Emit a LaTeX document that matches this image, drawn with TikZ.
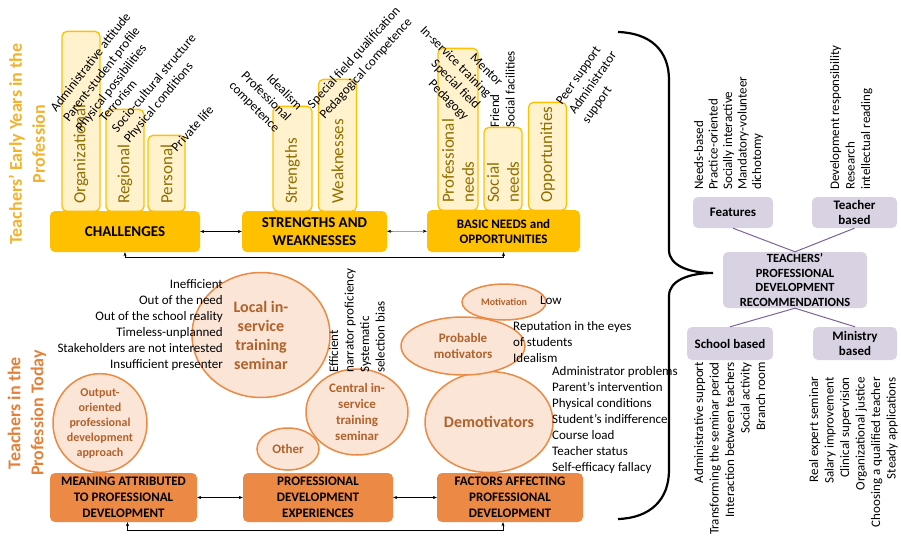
\documentclass[tikz,border=0pt]{standalone}
\usepackage{fontspec}
\setmainfont{Carlito}
\usetikzlibrary{shapes.geometric,arrows.meta}

\definecolor{gold}{HTML}{FFC000}
\definecolor{goldlight}{HTML}{FFF2CC}
\definecolor{goldtext}{HTML}{8F6E00}
\definecolor{goldtitle}{HTML}{F2B22E}
\definecolor{orng}{HTML}{EC8A45}
\definecolor{peach}{HTML}{FBE5D6}
\definecolor{brn}{HTML}{B0622C}
\definecolor{orngtitle}{HTML}{E3813B}
\definecolor{lav}{HTML}{D8D2E2}
\definecolor{purp}{HTML}{7A629A}

\tikzset{
  topbox/.style={fill=gold, rounded corners=5pt, align=center, inner sep=1pt, font=\fontsize{15}{18}\selectfont\bfseries},
  bar/.style={draw=gold, fill=goldlight, line width=1.3pt, rounded corners=5pt, minimum width=38pt, anchor=south},
  barlbl/.style={rotate=90, anchor=west, align=left, text=goldtext, inner sep=0pt, font=\fontsize{17}{20}\selectfont},
  lowbox/.style={fill=orng, rounded corners=5pt, align=center, inner sep=1pt, minimum width=147pt, minimum height=49pt, font=\fontsize{13}{16}\selectfont\bfseries},
  bub/.style={ellipse, draw=orng, fill=peach, line width=1.5pt, inner sep=0pt, align=center, text=brn, font=\fontsize{13}{16}\selectfont\bfseries},
  recbox/.style={fill=lav, rounded corners=5pt, align=center, inner sep=1pt, font=\fontsize{13}{16}\selectfont\bfseries},
  note/.style={inner sep=0pt, font=\fontsize{13}{16}\selectfont},
  vnote/.style={note, rotate=90, font=\fontsize{13}{15.5}\selectfont},
  dbl/.style={{Stealth[length=4pt,width=3pt]}-{Stealth[length=4pt,width=3pt]}, thin},
  pline/.style={draw=purp, line width=1pt},
  sidetitle/.style={rotate=90, align=center, font=\fontsize{18}{23}\selectfont\bfseries}
}

\begin{document}
\begin{tikzpicture}[x=1pt,y=-1pt]
\useasboundingbox (0,0) rectangle (901,536);

% side titles
\node[sidetitle, text=goldtitle] (tearly) at (27,144) {Teachers' Early Years in the\\Profession};
\node[sidetitle, text=orngtitle] (ttoday) at (27,413) {Teachers in the\\Profession Today};

% early years: bars
\node[bar, minimum height=180pt] (borg) at (81,212) {};
\node[bar, minimum height=102pt] (breg) at (125,212) {};
\node[bar, minimum height=76pt, minimum width=37pt] (bper) at (166.5,212) {};
\node[bar, minimum height=105pt, minimum width=39pt] (bstr) at (292.5,212) {};
\node[bar, minimum height=132pt] (bweak) at (337.5,212) {};
\node[bar, minimum height=162pt, minimum width=40pt] (bprof) at (458,211) {};
\node[bar, minimum height=83pt] (bsoc) at (503,211) {};
\node[bar, minimum height=108pt] (bopp) at (547.5,211) {};

\node[barlbl] at ([yshift=8pt]borg.south) {Organizational};
\node[barlbl] at ([yshift=8pt]breg.south) {Regional};
\node[barlbl] at ([yshift=8pt]bper.south) {Personal};
\node[barlbl] at ([yshift=8pt]bstr.south) {Strengths};
\node[barlbl] at ([yshift=8pt]bweak.south) {Weaknesses};
\node[barlbl] at ([yshift=8pt]bprof.south) {Professional\\needs};
\node[barlbl] at ([yshift=8pt]bsoc.south) {Social\\needs};
\node[barlbl] at ([yshift=8pt]bopp.south) {Opportunities};

% early years: main boxes
\node[topbox, minimum width=150pt, minimum height=41pt] (chal) at (125,231.5) {CHALLENGES};
\node[topbox, minimum width=145pt, minimum height=41pt] (sw) at (314.5,231.5) {STRENGTHS AND\\WEAKNESSES};
\node[topbox, minimum width=153pt, minimum height=42pt, font=\fontsize{13}{15}\selectfont\bfseries] (bn) at (503.5,231) {BASIC NEEDS and\\OPPORTUNITIES};

\draw[dbl] (chal) -- (sw);
\draw[dbl] (sw) -- (bn);
\draw[dbl] (chal.south) -- ++(0,5) -| (bn.south);

% early years: notes
\node[note, rotate=52, align=left, anchor=north west] (norg) at (49,107) {Administrative attitude\\Parent-student profile\\Physical possibilities};
\node[note, rotate=50, align=left, anchor=north west] (nreg) at (98,117) {Terrorism\\Socio-cultural structure\\Physical conditions};
\node[note, rotate=48, anchor=north west] (nper) at (170,146) {Private life};
\node[note, rotate=-45, align=right, anchor=north east] (nstr) at (304,104) {Idealism\\Professional\\competence};
\node[note, rotate=48, align=left, anchor=north west] (nweak) at (306,103) {Special field qualification\\Pedagogical competence};
\node[note, rotate=-45, align=right, anchor=north east] (nprof) at (504,81) {Mentor\\In-service training\\Special field\\Pedagogy};
\node[vnote, align=left, anchor=north west] (nsoc) at (490,128) {Friend\\Social facilities};
\node[note, rotate=55, align=left, anchor=north west] (nopp) at (555,101) {Peer support\\Administrator\\support};

% today: bubbles
\node[bub, minimum width=94pt, minimum height=96pt, font=\fontsize{12}{15}\selectfont\bfseries] (outp) at (100,423) {Output-\\oriented\\professional\\development\\approach};
\node[bub, minimum width=138pt, minimum height=125pt, font=\fontsize{16}{19}\selectfont\bfseries] (loc) at (261,335) {Local in-\\service\\training\\seminar};
\node[bub, minimum width=102pt, minimum height=86pt] (cen) at (357,412) {Central in-\\service\\training\\seminar};
\node[bub, minimum width=62pt, minimum height=42pt] (oth) at (288,449) {Other};
\node[bub, minimum width=128pt, minimum height=101pt, font=\fontsize{16}{19}\selectfont\bfseries] (demo) at (489,422) {Demotivators};
\node[bub, minimum width=124pt, minimum height=58pt] (prob) at (463,346) {Probable\\motivators};
\node[bub, minimum width=84pt, minimum height=36pt, font=\fontsize{10}{12}\selectfont\bfseries] (mot) at (504,302) {Motivation};

% today: notes
\node[note, align=right, anchor=north east] (nloc) at (223,279) {Inefficient\\Out of the need\\Out of the school reality\\Timeless-unplanned\\Stakeholders are not interested\\Insufficient presenter};
\node[vnote, align=left, anchor=north west] (ncen) at (329,373) {Efficient\\narrator proficiency\\Systematic\\selection bias};
\node[note, anchor=west] (nmot) at (540,300) {Low};
\node[note, align=left, anchor=north west] (nprob) at (513,321) {Reputation in the eyes\\of students\\Idealism};
\node[note, align=left, anchor=north west] (ndemo) at (552,366) {Administrator problems\\Parent's intervention\\Physical conditions\\Student's indifference\\Course load\\Teacher status\\Self-efficacy fallacy};

% today: main boxes
\node[lowbox] (mean) at (123.5,497.5) {MEANING ATTRIBUTED\\TO PROFESSIONAL\\DEVELOPMENT};
\node[lowbox, minimum width=150pt] (exper) at (318,497.5) {PROFESSIONAL\\DEVELOPMENT\\EXPERIENCES};
\node[lowbox, minimum width=146pt] (fact) at (510,497.5) {FACTORS AFFECTING\\PROFESSIONAL\\DEVELOPMENT};

\draw[dbl] (mean) -- (exper);
\draw[dbl] (exper) -- (fact);
\draw[dbl] ([xshift=4pt]mean.south) -- ++(0,8) -| ([xshift=-7pt]fact.south);

% brace
\coordinate (tip) at (713,273);
\draw[line width=2.2pt] (618,32) .. controls (650,33) and (669,50) .. (669,80) -- (669,250)
  .. controls (669,266) and (690,273) .. (tip)
  .. controls (690,273) and (669,280) .. (669,296) -- (669,470)
  .. controls (669,500) and (650,518) .. (618,519);

% recommendations
\node[recbox, minimum width=144pt, minimum height=56pt, font=\fontsize{12.5}{14.5}\selectfont\bfseries] (rec) at (795,280) {TEACHERS'\\PROFESSIONAL\\DEVELOPMENT\\RECOMMENDATIONS};
\node[recbox, minimum width=80pt, minimum height=31pt] (feat) at (733,212.5) {Features};
\node[recbox, minimum width=85pt, minimum height=31pt, font=\fontsize{13}{15}\selectfont\bfseries] (tbased) at (854.5,212.5) {Teacher\\based};
\node[recbox, minimum width=86pt, minimum height=33pt] (sbased) at (730,343.5) {School based};
\node[recbox, minimum width=84pt, minimum height=33pt, font=\fontsize{13}{15}\selectfont\bfseries] (mbased) at (855,343.5) {Ministry\\based};

\draw[pline] (feat.south) -- (rec.north);
\draw[pline] (tbased.south) -- (rec.north);
\draw[pline] (rec.south) -- (sbased.north);
\draw[pline] (rec.south) -- (mbased.north);

\node[vnote, align=left, anchor=north west, font=\fontsize{13}{14.5}\selectfont] (nfeat) at (694,190) {Needs-based\\Practice-oriented\\Socially interactive\\Mandatory-volunteer\\dichotomy};
\node[vnote, align=left, anchor=north west] (ntb) at (830,190) {Development responsibility\\Research\\intellectual reading};
\node[vnote, align=right, anchor=north east] (nsb) at (694,362) {Administrative support\\Transforming the seminar period\\Interaction between teachers\\Social activity\\Branch room};
\node[vnote, align=right, anchor=north east] (nmb) at (809,377) {Real expert seminar\\Salary improvement\\Clinical supervision\\Organizational justice\\Choosing a qualified teacher\\Steady applications};
\end{tikzpicture}
\end{document}
